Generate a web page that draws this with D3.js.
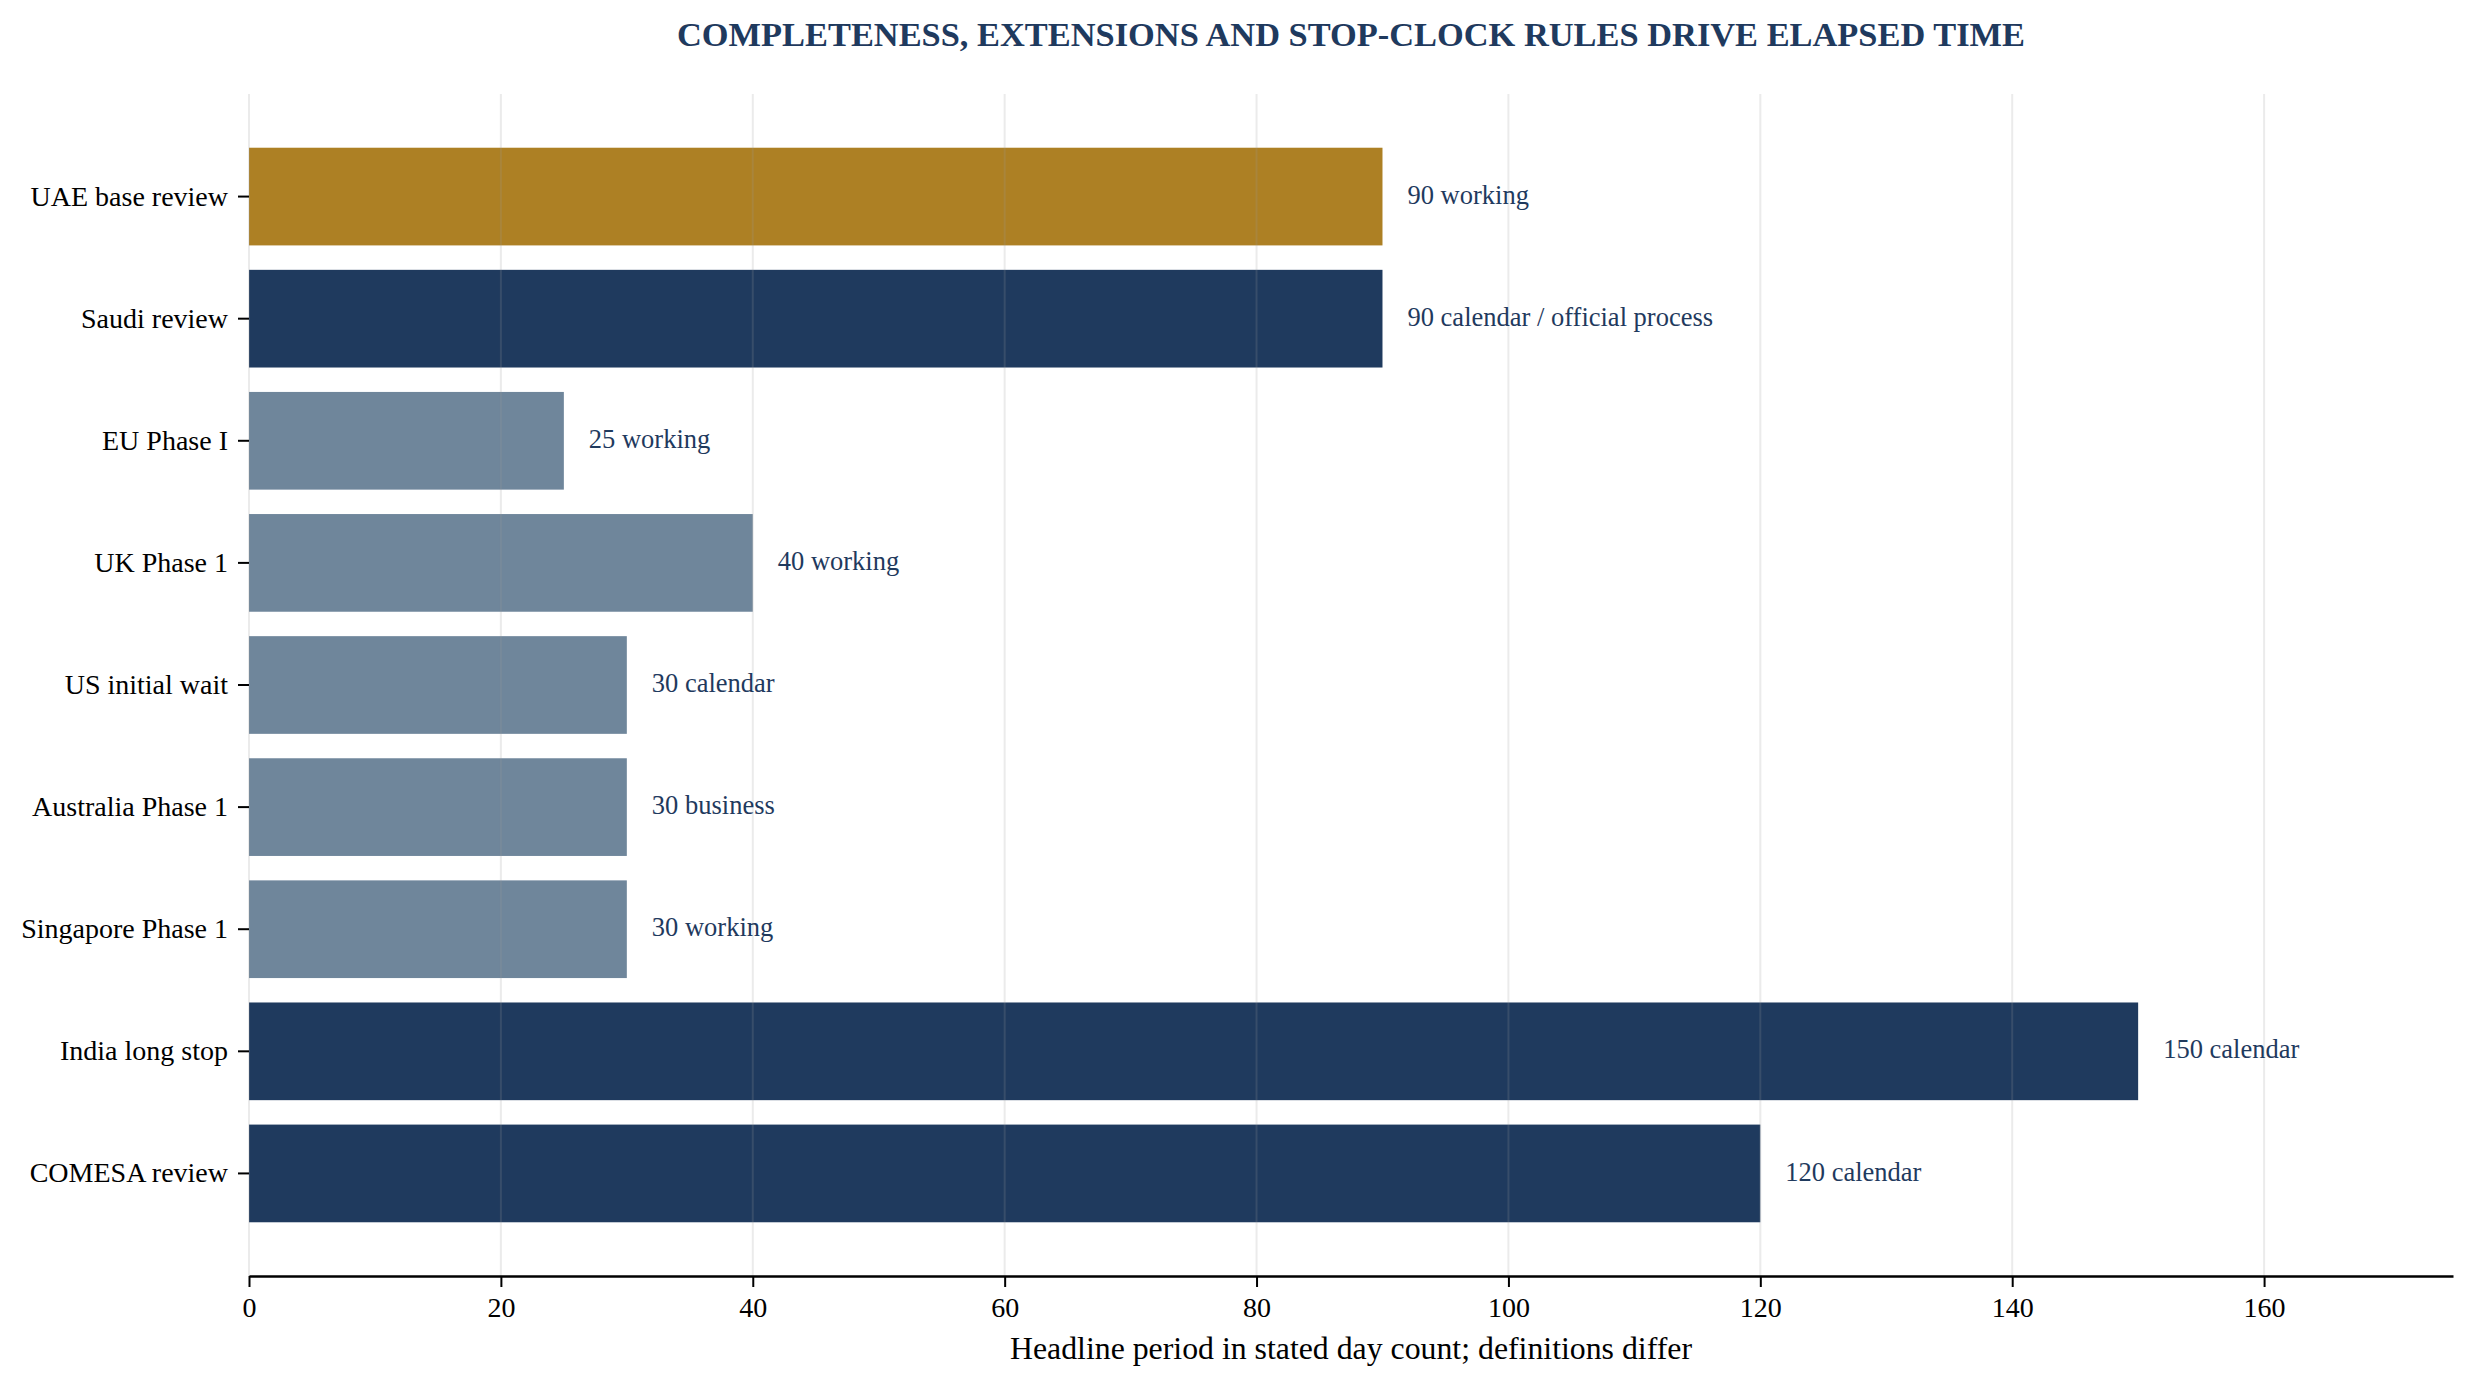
<!DOCTYPE html>
<html lang="en">
  <head>
    <script src="https://d3js.org/d3.v7.min.js"></script>
    <style>
      body {
        margin: 0;
        background: #ffffff;
      }
      text {
        font-family: "Liberation Serif", "Times New Roman", serif;
      }
    </style>
  </head>

  <body>
    <svg width="2474" height="1386"></svg>
    <script>
      // chart data
      var categories = [
        "UAE base review",
        "Saudi review",
        "EU Phase I",
        "UK Phase 1",
        "US initial wait",
        "Australia Phase 1",
        "Singapore Phase 1",
        "India long stop",
        "COMESA review",
      ];
      var values = [90, 90, 25, 40, 30, 30, 30, 150, 120];
      var valueLabels = [
        "90 working",
        "90 calendar / official process",
        "25 working",
        "40 working",
        "30 calendar",
        "30 business",
        "30 working",
        "150 calendar",
        "120 calendar",
      ];
      var groups = [
        "uae",
        "extended",
        "phase",
        "phase",
        "phase",
        "phase",
        "phase",
        "extended",
        "extended",
      ];
      var xTicks = [0, 20, 40, 60, 80, 100, 120, 140, 160];

      var data = categories.map(function (c, i) {
        return { name: c, value: values[i], label: valueLabels[i], group: groups[i] };
      });

      var svg = d3.select("svg");
      var plotLeft = 249,
        plotRight = 2453,
        plotTop = 94,
        plotBottom = 1276;
      var navy = "#1f3a5e";

      var color = d3
        .scaleOrdinal()
        .domain(["uae", "extended", "phase"])
        .range(["#ad8024", "#1f3a5e", "#6f869b"]);

      //x scale leaves room for the labels after the longest bar
      var x = d3
        .scaleLinear()
        .domain([0, d3.max(values) + 25])
        .range([plotLeft, plotRight]);
      var y = d3
        .scaleBand()
        .domain(categories)
        .range([plotTop, plotBottom])
        .paddingInner(0.2)
        .paddingOuter(0.44);

      //title
      svg
        .append("text")
        .attr("x", (plotLeft + plotRight) / 2)
        .attr("y", 46)
        .attr("text-anchor", "middle")
        .attr("font-size", "34.4px")
        .attr("font-weight", "bold")
        .attr("fill", navy)
        .text("COMPLETENESS, EXTENSIONS AND STOP-CLOCK RULES DRIVE ELAPSED TIME");

      //bars
      svg
        .selectAll(".bar")
        .data(data)
        .enter()
        .append("rect")
        .attr("class", "bar")
        .attr("x", x(0))
        .attr("y", function (d) {
          return y(d.name);
        })
        .attr("width", function (d) {
          return x(d.value) - x(0);
        })
        .attr("height", y.bandwidth())
        .attr("fill", function (d) {
          return color(d.group);
        });

      //vertical grid lines sit on top of the bars
      svg
        .append("g")
        .selectAll("line")
        .data(xTicks)
        .enter()
        .append("line")
        .attr("x1", function (d) {
          return x(d);
        })
        .attr("x2", function (d) {
          return x(d);
        })
        .attr("y1", plotTop)
        .attr("y2", plotBottom)
        .attr("stroke", "#999999")
        .attr("stroke-opacity", 0.2)
        .attr("stroke-width", 2);

      //value labels
      svg
        .selectAll(".val")
        .data(data)
        .enter()
        .append("text")
        .attr("class", "val")
        .attr("x", function (d) {
          return x(d.value) + 25;
        })
        .attr("y", function (d) {
          return y(d.name) + y.bandwidth() / 2;
        })
        .attr("dy", "0.27em")
        .attr("font-size", "26.5px")
        .attr("fill", navy)
        .text(function (d) {
          return d.label;
        });

      //bottom axis
      var xAxis = svg
        .append("g")
        .attr("transform", "translate(0," + plotBottom + ")")
        .call(d3.axisBottom(x).tickValues(xTicks).tickSize(11).tickSizeOuter(0).tickPadding(10));
      xAxis.select(".domain").attr("stroke", "#000").attr("stroke-width", 2.6);
      xAxis.selectAll(".tick line").attr("stroke", "#000").attr("stroke-width", 2);
      xAxis
        .selectAll(".tick text")
        .attr("font-size", "28px")
        .attr("font-family", "Liberation Serif, Times New Roman, serif")
        .attr("fill", "#000");

      //left axis, no spine
      var yAxis = svg
        .append("g")
        .attr("transform", "translate(" + plotLeft + ",0)")
        .call(d3.axisLeft(y).tickSize(11).tickPadding(10));
      yAxis.select(".domain").remove();
      yAxis.selectAll(".tick line").attr("stroke", "#000").attr("stroke-width", 2);
      yAxis
        .selectAll(".tick text")
        .attr("font-size", "28px")
        .attr("font-family", "Liberation Serif, Times New Roman, serif")
        .attr("fill", "#000");

      //x axis label
      svg
        .append("text")
        .attr("x", (plotLeft + plotRight) / 2)
        .attr("y", 1359)
        .attr("text-anchor", "middle")
        .attr("font-size", "31.8px")
        .attr("fill", "#000")
        .text("Headline period in stated day count; definitions differ");
    </script>
  </body>
</html>
